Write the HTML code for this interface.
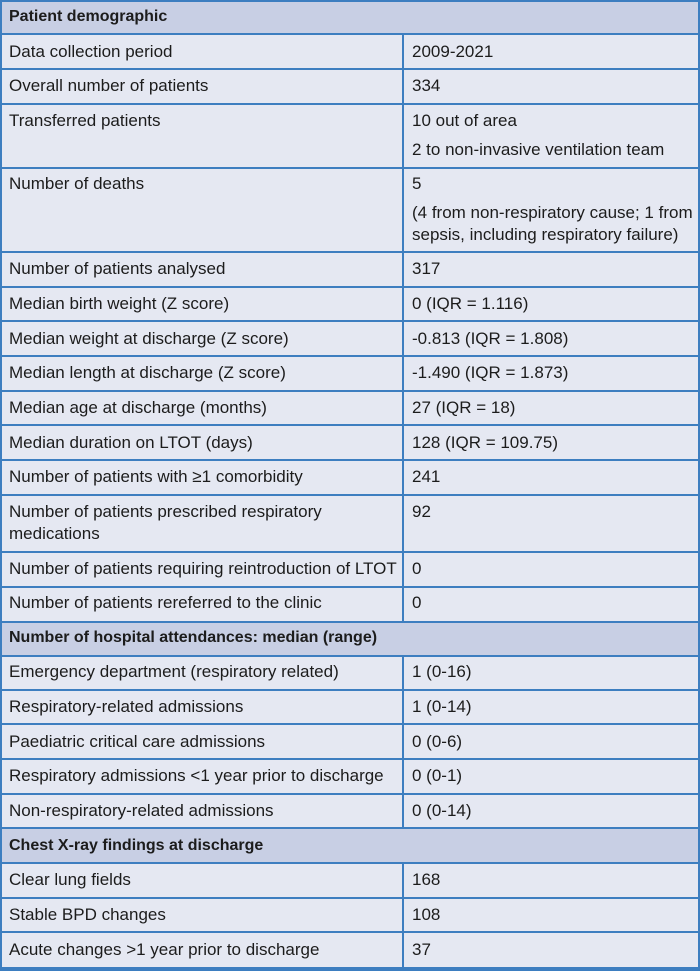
<!DOCTYPE html>
<html>
<head>
<meta charset="utf-8">
<style>
  html, body { margin:0; padding:0; }
  body { width:700px; height:971px; position:relative; overflow:hidden; background:#e5e8f2;
         font-family:"Liberation Sans", "DejaVu Sans", sans-serif; color:#1c1c1c; }
  .hdr { position:absolute; left:0; width:700px; background:#c8cfe4; }
  .h { position:absolute; left:0; width:700px; height:2px; background:#3d7ec0; }
  .v { position:absolute; width:2px; background:#3d7ec0; }
  .t { position:absolute; font-size:17px; line-height:22px; white-space:nowrap; }
  .l { left:9px; }
  .r { left:412px; }
  .b { font-weight:bold; font-size:16px; }
</style>
</head>
<body>
<!-- header backgrounds -->
<div class="hdr" style="top:0;height:34px;"></div>
<div class="hdr" style="top:622px;height:34px;"></div>
<div class="hdr" style="top:828px;height:35px;"></div>

<!-- horizontal lines -->
<div class="h" style="top:0;"></div>
<div class="h" style="top:33px;"></div>
<div class="h" style="top:68px;"></div>
<div class="h" style="top:103px;"></div>
<div class="h" style="top:167px;"></div>
<div class="h" style="top:251px;"></div>
<div class="h" style="top:286px;"></div>
<div class="h" style="top:320px;"></div>
<div class="h" style="top:355px;"></div>
<div class="h" style="top:390px;"></div>
<div class="h" style="top:424px;"></div>
<div class="h" style="top:459px;"></div>
<div class="h" style="top:494px;"></div>
<div class="h" style="top:551px;"></div>
<div class="h" style="top:586px;"></div>
<div class="h" style="top:621px;"></div>
<div class="h" style="top:655px;"></div>
<div class="h" style="top:689px;"></div>
<div class="h" style="top:723px;"></div>
<div class="h" style="top:758px;"></div>
<div class="h" style="top:793px;"></div>
<div class="h" style="top:827px;"></div>
<div class="h" style="top:862px;"></div>
<div class="h" style="top:897px;"></div>
<div class="h" style="top:931px;"></div>
<div class="h" style="top:967px;height:4px;"></div>

<!-- vertical lines -->
<div class="v" style="left:0;top:0;height:971px;"></div>
<div class="v" style="left:698px;top:0;height:971px;"></div>
<div class="v" style="left:402px;top:34px;height:588px;"></div>
<div class="v" style="left:402px;top:656px;height:172px;"></div>
<div class="v" style="left:402px;top:862px;height:106px;"></div>

<!-- text -->
<div class="t l b" style="top:6px;">Patient demographic</div>

<div class="t l" style="top:41px;">Data collection period</div>
<div class="t r" style="top:41px;">2009-2021</div>

<div class="t l" style="top:75px;">Overall number of patients</div>
<div class="t r" style="top:75px;">334</div>

<div class="t l" style="top:110px;">Transferred patients</div>
<div class="t r" style="top:110px;">10 out of area</div>
<div class="t r" style="top:139px;">2 to non-invasive ventilation team</div>

<div class="t l" style="top:173px;">Number of deaths</div>
<div class="t r" style="top:173px;">5</div>
<div class="t r" style="top:202px;">(4 from non-respiratory cause; 1 from</div>
<div class="t r" style="top:224px;">sepsis, including respiratory failure)</div>

<div class="t l" style="top:258px;">Number of patients analysed</div>
<div class="t r" style="top:258px;">317</div>

<div class="t l" style="top:293px;">Median birth weight (Z score)</div>
<div class="t r" style="top:293px;">0 (IQR = 1.116)</div>

<div class="t l" style="top:328px;">Median weight at discharge (Z score)</div>
<div class="t r" style="top:328px;">-0.813 (IQR = 1.808)</div>

<div class="t l" style="top:362px;">Median length at discharge (Z score)</div>
<div class="t r" style="top:362px;">-1.490 (IQR = 1.873)</div>

<div class="t l" style="top:397px;">Median age at discharge (months)</div>
<div class="t r" style="top:397px;">27 (IQR = 18)</div>

<div class="t l" style="top:432px;">Median duration on LTOT (days)</div>
<div class="t r" style="top:432px;">128 (IQR = 109.75)</div>

<div class="t l" style="top:466px;">Number of patients with ≥1 comorbidity</div>
<div class="t r" style="top:466px;">241</div>

<div class="t l" style="top:501px;">Number of patients prescribed respiratory</div>
<div class="t l" style="top:523px;">medications</div>
<div class="t r" style="top:501px;">92</div>

<div class="t l" style="top:558px;">Number of patients requiring reintroduction of LTOT</div>
<div class="t r" style="top:558px;">0</div>

<div class="t l" style="top:592px;">Number of patients rereferred to the clinic</div>
<div class="t r" style="top:592px;">0</div>

<div class="t l b" style="top:627px;">Number of hospital attendances: median (range)</div>

<div class="t l" style="top:661px;">Emergency department (respiratory related)</div>
<div class="t r" style="top:661px;">1 (0-16)</div>

<div class="t l" style="top:696px;">Respiratory-related admissions</div>
<div class="t r" style="top:696px;">1 (0-14)</div>

<div class="t l" style="top:731px;">Paediatric critical care admissions</div>
<div class="t r" style="top:731px;">0 (0-6)</div>

<div class="t l" style="top:765px;">Respiratory admissions &lt;1 year prior to discharge</div>
<div class="t r" style="top:765px;">0 (0-1)</div>

<div class="t l" style="top:800px;">Non-respiratory-related admissions</div>
<div class="t r" style="top:800px;">0 (0-14)</div>

<div class="t l b" style="top:835px;">Chest X-ray findings at discharge</div>

<div class="t l" style="top:869px;">Clear lung fields</div>
<div class="t r" style="top:869px;">168</div>

<div class="t l" style="top:904px;">Stable BPD changes</div>
<div class="t r" style="top:904px;">108</div>

<div class="t l" style="top:939px;">Acute changes &gt;1 year prior to discharge</div>
<div class="t r" style="top:939px;">37</div>
</body>
</html>
